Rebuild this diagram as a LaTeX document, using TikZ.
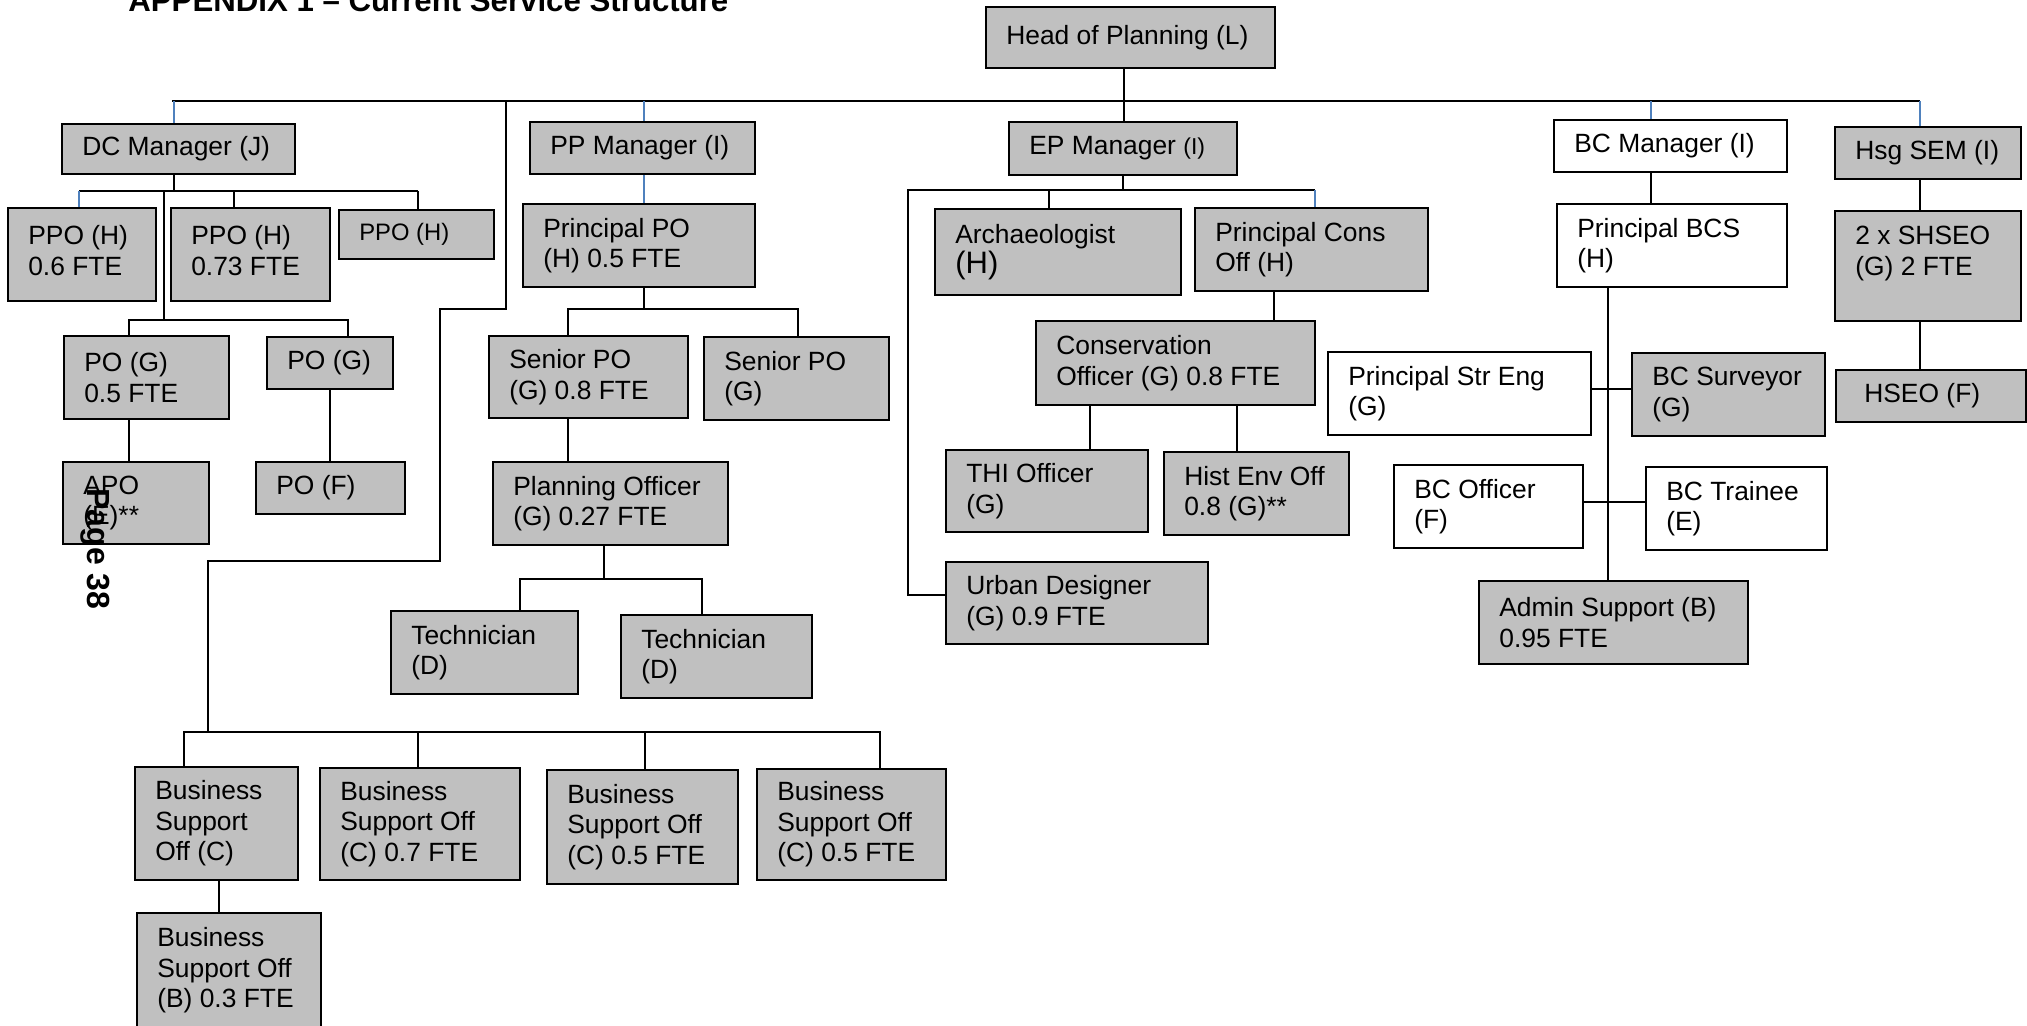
\documentclass[tikz,border=0pt]{standalone}
\usepackage{fontspec}
\setmainfont{Liberation Sans}
\definecolor{boxgrey}{RGB}{192,192,192}
\definecolor{tickblue}{RGB}{79,129,189}
\tikzset{
  orgbox/.style={draw=black, line width=1.1pt, inner sep=0pt, anchor=center},
  gbox/.style={orgbox, fill=boxgrey},
  wbox/.style={orgbox, fill=white},
  btext/.style={anchor=west, align=left, inner sep=0pt, font=\fontsize{13.2}{15.3}\selectfont},
  conn/.style={line width=0.9pt, black},
  bconn/.style={line width=0.8pt, tickblue},
}
\newcommand\obox[7]{%
  \pgfmathsetmacro\bw{(#5-#3)*0.5}%
  \pgfmathsetmacro\bh{(#6-#4)*0.5}%
  \node[#1, minimum width=\bw pt, minimum height=\bh pt] (#2) at ({(#3+#5)/2},{(#4+#6)/2}) {};%
  \node[btext] (#2-t) at ([xshift=10.5pt]#2.west) {#7};%
}
\begin{document}
\begin{tikzpicture}[x=0.5pt,y=-0.5pt]
\useasboundingbox (0,0) rectangle (2027,1025);
\clip (0,0) rectangle (2027,1025);

% title
\node[anchor=base west, inner sep=0pt, font=\bfseries\fontsize{15.6}{18}\selectfont] (title) at (128,11) {APPENDIX 1 – Current Service Structure};

% ---------- boxes ----------
\obox{gbox}{head}{986}{7}{1275}{68}{Head of Planning (L)}
\obox{gbox}{dcm}{62}{124}{295}{174}{DC Manager (J)}
\obox{gbox}{ppm}{530}{122}{755}{174}{PP Manager (I)}
\obox{gbox}{epm}{1009}{122}{1237}{175}{EP Manager {\fontsize{11.5}{13}\selectfont (I)}}
\obox{wbox}{bcm}{1554}{120}{1787}{172}{BC Manager (I)}
\obox{gbox}{hsg}{1835}{127}{2021}{179}{Hsg SEM (I)}

\obox{gbox}{ppo1}{8}{208}{156}{301}{PPO (H)\\0.6 FTE\vspace*{4pt}}
\obox{gbox}{ppo2}{171}{208}{330}{301}{PPO (H)\\0.73 FTE\vspace*{4pt}}
\obox{gbox}{ppo3}{339}{210}{494}{259}{\fontsize{11.9}{14}\selectfont PPO (H)}
\obox{gbox}{prpo}{523}{204}{755}{287}{Principal PO\\(H) 0.5 FTE}
\obox{gbox}{arch}{935}{209}{1181}{295}{Archaeologist\\{\fontsize{15.5}{16}\selectfont (H)}}
\obox{gbox}{pco}{1195}{208}{1428}{291}{Principal Cons\\Off (H)}
\obox{wbox}{pbcs}{1557}{204}{1787}{287}{Principal BCS\\(H)}
\node[gbox, minimum width=93pt, minimum height=55pt] (shseo) at (1928,266) {};
\node[btext, anchor=north west] (shseo-t) at ([xshift=10.5pt,yshift=-8pt]shseo.north west) {2 x SHSEO\\(G) 2 FTE};

\obox{gbox}{pog1}{64}{336}{229}{419}{PO (G)\\0.5 FTE}
\obox{gbox}{pog2}{267}{337}{393}{389}{PO (G)}
\obox{gbox}{spo1}{489}{336}{688}{418}{Senior PO\\(G) 0.8 FTE}
\obox{gbox}{spo2}{704}{337}{889}{420}{Senior PO\\(G)}
\obox{gbox}{cons}{1036}{321}{1315}{405}{Conservation\\Officer (G) 0.8 FTE}
\obox{wbox}{pse}{1328}{352}{1591}{435}{Principal Str Eng\\(G)}
\obox{gbox}{bcs}{1632}{353}{1825}{436}{BC Surveyor\\(G)}
\obox{gbox}{hseo}{1836}{370}{2026}{422}{\hspace*{4pt}HSEO (F)}

\obox{gbox}{apo}{63}{462}{209}{544}{APO\\(E)**}
\obox{gbox}{pof}{256}{462}{405}{514}{PO (F)}
\obox{gbox}{plo}{493}{462}{728}{545}{Planning Officer\\(G) 0.27 FTE}
\obox{gbox}{thi}{946}{450}{1148}{532}{THI Officer\\(G)}
\obox{gbox}{hist}{1164}{452}{1349}{535}{Hist Env Off\\0.8 (G)**}
\obox{wbox}{bco}{1394}{465}{1583}{548}{BC Officer\\(F)}
\obox{wbox}{bct}{1646}{467}{1827}{550}{BC Trainee\\(E)}

\obox{gbox}{tech1}{391}{611}{578}{694}{Technician\\(D)}
\obox{gbox}{tech2}{621}{615}{812}{698}{Technician\\(D)}
\obox{gbox}{urb}{946}{562}{1208}{644}{Urban Designer\\(G) 0.9 FTE}
\obox{gbox}{adm}{1479}{581}{1748}{664}{Admin Support (B)\\0.95 FTE}

\obox{gbox}{bso1}{135}{767}{298}{880}{Business\\Support\\Off (C)}
\obox{gbox}{bso2}{320}{768}{520}{880}{Business\\Support Off\\(C) 0.7 FTE}
\obox{gbox}{bso3}{547}{770}{738}{884}{Business\\Support Off\\(C) 0.5 FTE}
\obox{gbox}{bso4}{757}{769}{946}{880}{Business\\Support Off\\(C) 0.5 FTE}
\obox{gbox}{bso5}{137}{913}{321}{1028}{Business\\Support Off\\(B) 0.3 FTE}

% ---------- connectors ----------
\coordinate (busL) at (172,101);
\coordinate (busR) at (1920,101);
\draw[conn] (busL) -- (busR);
\draw[conn] (1124,0 |- head.south) -- (1124,0 |- epm.north);

\draw[bconn] (174,101) -- (174,0 |- dcm.north);
\draw[bconn] (644,101) -- (644,0 |- ppm.north);
\draw[bconn] (1651,101) -- (1651,0 |- bcm.north);
\draw[bconn] (1920,101) -- (1920,0 |- hsg.north);

% DC
\draw[conn] (174,0 |- dcm.south) -- (174,191);
\draw[conn] (79,191) -- (418,191);
\draw[bconn] (79,191) -- (79,0 |- ppo1.north);
\draw[conn] (234,191) -- (234,0 |- ppo2.north);
\draw[conn] (418,191) -- (418,0 |- ppo3.north);
\draw[conn] (164,191) -- (164,320);
\draw[conn] (129,0 |- pog1.north) -- (129,320) -- (348,320) -- (348,0 |- pog2.north);
\draw[conn] (129,0 |- pog1.south) -- (129,0 |- apo.north);
\draw[conn] (330,0 |- pog2.south) -- (330,0 |- pof.north);

\draw[conn] (506,101) -- (506,309) -- (440,309) -- (440,561) -- (208,561) -- (208,732);
\draw[conn] (184,0 |- bso1.north) -- (184,732) -- (880,732) -- (880,0 |- bso4.north);
\draw[conn] (418,732) -- (418,0 |- bso2.north);
\draw[conn] (645,732) -- (645,0 |- bso3.north);
\draw[conn] (219,0 |- bso1.south) -- (219,0 |- bso5.north);

% PP
\draw[bconn] (644,0 |- ppm.south) -- (644,0 |- prpo.north);
\draw[conn] (644,0 |- prpo.south) -- (644,309);
\draw[conn] (568,0 |- spo1.north) -- (568,309) -- (798,309) -- (798,0 |- spo2.north);
\draw[conn] (568,0 |- spo1.south) -- (568,0 |- plo.north);
\draw[conn] (604,0 |- plo.south) -- (604,579);
\draw[conn] (520,0 |- tech1.north) -- (520,579) -- (702,579) -- (702,0 |- tech2.north);

% EP
\draw[conn] (1123,0 |- epm.south) -- (1123,190);
\draw[conn] (1315,190) -- (908,190) -- (908,595) -- (urb.west |- 908,595);
\draw[conn] (1049,190) -- (1049,0 |- arch.north);
\draw[bconn] (1315,190) -- (1315,0 |- pco.north);
\draw[conn] (1274,0 |- pco.south) -- (1274,0 |- cons.north);
\draw[conn] (1090,0 |- cons.south) -- (1090,0 |- thi.north);
\draw[conn] (1237,0 |- cons.south) -- (1237,0 |- hist.north);

% BC
\draw[conn] (1651,0 |- bcm.south) -- (1651,0 |- pbcs.north);
\draw[conn] (1608,0 |- pbcs.south) -- (1608,0 |- adm.north);
\draw[conn] (pse.east |- 0,389) -- (bcs.west |- 0,389);
\draw[conn] (bco.east |- 0,502) -- (bct.west |- 0,502);

% Hsg
\draw[conn] (1920,0 |- hsg.south) -- (1920,0 |- shseo.north);
\draw[conn] (1920,0 |- shseo.south) -- (1920,0 |- hseo.north);

% page stamp
\node[rotate=-90, inner sep=0pt, font=\bfseries\fontsize{16}{19}\selectfont] (pg) at (95,549) {Page 38};
\end{tikzpicture}
\end{document}
